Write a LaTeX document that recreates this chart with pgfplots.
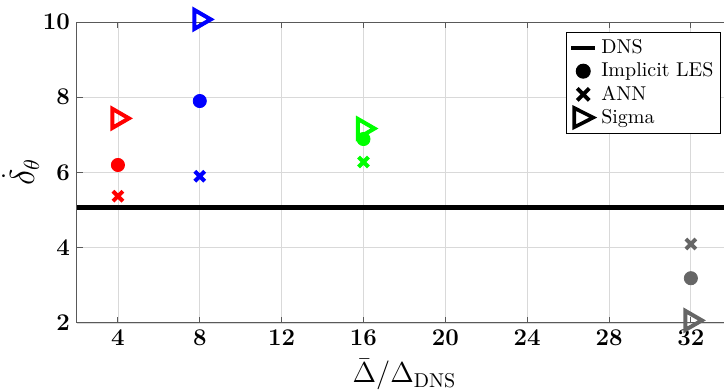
\documentclass[border=0pt]{standalone}
\usepackage{pgfplots}
\pgfplotsset{compat=1.18}
\definecolor{mgray}{rgb}{0.4,0.4,0.4}
\begin{document}
\begin{tikzpicture}
\useasboundingbox (0,0) rectangle (362pt,195pt);
\begin{axis}[
 at={(38.5pt,33.5pt)}, anchor=south west,
 scale only axis, width=327.4pt, height=150.5pt,
 xmin=2, xmax=34, ymin=2, ymax=10,
 xtick={4,8,...,32}, ytick={2,4,...,10},
 grid=major, major grid style={black!15, line width=0.4pt},
 axis line style={black!65, line width=0.5pt},
 tick style={black!65, line width=0.5pt},
 tick align=inside, major tick length=3pt,
 tick label style={font=\fontsize{11.5}{13}\selectfont\boldmath},
 xlabel={$\bar{\Delta}/\Delta_{\mathrm{DNS}}$},
 ylabel={$\dot{\delta}_{\theta}$},
 label style={font=\fontsize{14}{16}\selectfont},
 ylabel style={font=\fontsize{16}{18}\selectfont},
 ylabel shift=-5pt,
 clip=false,
 legend style={at={(rel axis cs:1,1)}, anchor=north east, xshift=-5.4pt, yshift=-5pt,
   draw=black, line width=0.5pt, font=\fontsize{10}{11}\selectfont,
   inner sep=1.5pt, row sep=-1pt, cells={anchor=west}},
 legend cell align=left,
]
\addlegendimage{black, line width=2pt, legend image code/.code={\draw[black,line width=2pt] (0pt,0pt) -- (12pt,0pt);}}
\addlegendentry{DNS}
\addlegendimage{black, legend image code/.code={\fill[black] (6pt,0pt) circle (3.5pt);}}
\addlegendentry{Implicit LES}
\addlegendimage{black, legend image code/.code={\draw[black,line width=2pt] (3pt,-3pt) -- (9pt,3pt) (3pt,3pt) -- (9pt,-3pt);}}
\addlegendentry{ANN}
\addlegendimage{black, legend image code/.code={\draw[black,line width=1.8pt,line join=miter] (1.5pt,-4.8pt) -- (11pt,0pt) -- (1.5pt,4.8pt) -- cycle;}}
\addlegendentry{Sigma}

\addplot[forget plot, black, line width=2.5pt] coordinates {(2,5.08) (34,5.08)};

% Sigma (triangles)
\addplot[forget plot, only marks, mark=triangle, red, mark size=5.5pt, line width=2pt, mark options={rotate=-90, xshift=-1.3pt}] coordinates {(4,7.37)};
\addplot[forget plot, only marks, mark=triangle, blue, mark size=5.5pt, line width=2pt, mark options={rotate=-90, xshift=-1.3pt}] coordinates {(8,10)};
\addplot[forget plot, only marks, mark=triangle, green, mark size=5.5pt, line width=2pt, mark options={rotate=-90, xshift=-1.3pt}] coordinates {(16,7.1)};
\addplot[forget plot, only marks, mark=triangle, mgray, mark size=5.5pt, line width=2pt, mark options={rotate=-90, xshift=-1.3pt}] coordinates {(32,2)};

% Implicit LES (circles)
\addplot[forget plot, only marks, mark=*, red, mark size=3.3pt] coordinates {(4,6.2)};
\addplot[forget plot, only marks, mark=*, blue, mark size=3.3pt] coordinates {(8,7.9)};
\addplot[forget plot, only marks, mark=*, green, mark size=3.3pt] coordinates {(16,6.89)};
\addplot[forget plot, only marks, mark=*, mgray, mark size=3.3pt] coordinates {(32,3.19)};

% ANN (crosses)
\addplot[forget plot, only marks, mark=x, red, mark size=3.5pt, line width=2pt] coordinates {(4,5.37)};
\addplot[forget plot, only marks, mark=x, blue, mark size=3.5pt, line width=2pt] coordinates {(8,5.9)};
\addplot[forget plot, only marks, mark=x, green, mark size=3.5pt, line width=2pt] coordinates {(16,6.28)};
\addplot[forget plot, only marks, mark=x, mgray, mark size=3.5pt, line width=2pt] coordinates {(32,4.1)};
\end{axis}
\end{tikzpicture}
\end{document}
